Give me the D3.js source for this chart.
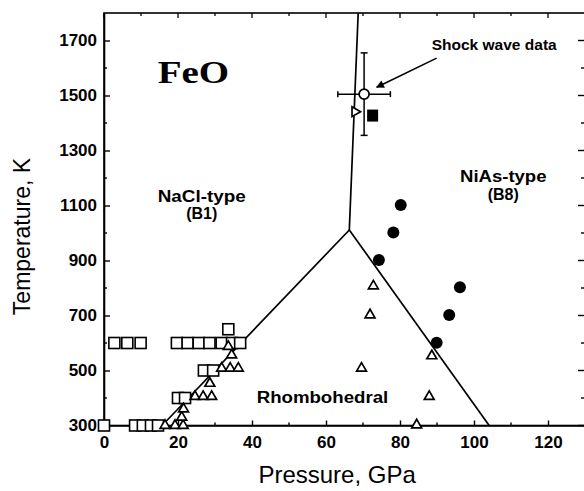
<!DOCTYPE html>
<html>
<head>
<meta charset="utf-8">
<script src="https://cdn.jsdelivr.net/npm/d3@7"></script>
<style>
  html, body { margin: 0; padding: 0; background: #fff; }
  svg { display: block; }
  .tick text { font-family: "Liberation Sans", Arial, sans-serif; font-weight: bold; font-size: 17px; fill: #000; }
</style>
</head>
<body>
<svg id="chart" width="584" height="491"></svg>
<script>
// ---------- data ----------
const xTicks = [0, 20, 40, 60, 80, 100, 120];
const yTicks = [300, 500, 700, 900, 1100, 1300, 1500, 1700];

// open squares (B1 observed)
const squareP = [0, 8.4, 10.5, 12.7, 14.6,
                 20, 21.9,
                 27, 29.5,
                 2.8, 6.3, 9.9, 19.7, 22.6, 25.6, 28.5, 31.8, 34.6, 36.8,
                 33.6];
const squareT = [300, 300, 300, 300, 300,
                 400, 400,
                 500, 500,
                 600, 600, 600, 600, 600, 600, 600, 600, 600, 600,
                 650];

// open triangles (rhombohedral observed)
const triP = [16.5, 19.2, 21.4, 21, 21.5,
              24.6, 26.8, 29.1, 28.6,
              31.8, 34.1, 36.3, 34.5, 33.6,
              72.8, 71.9, 69.6, 88.6, 87.9, 84.5];
const triT = [300, 300, 300, 330, 360,
              405, 405, 405, 453,
              508, 508, 508, 556, 587,
              807, 702, 508, 553, 405, 302];

// filled circles (B8 observed)
const circP = [74.3, 96.2, 93.3, 89.9, 80.2, 78.2];
const circT = [902, 803, 702, 601, 1102, 1002];

// shock wave datum
const shockP = 70.3, shockT = 1505, shockPErr = 7.1, shockTErr = 150;
// nearby symbols
const sideTriP = [67.8], sideTriT = [1441];
const fillSqP = [72.6], fillSqT = [1427];

// phase boundaries
const boundaryLeftP = [15.7, 66.3];
const boundaryLeftT = [300, 1011];
const boundaryRightP = [66.3, 104.1];
const boundaryRightT = [1011, 300];
const boundaryTopP = [66.3, 68.7];
const boundaryTopT = [1011, 1800];

// ---------- chart ----------
const svg = d3.select("#chart");
svg.append("rect").attr("width", 584).attr("height", 491).attr("fill", "#fff");

const x = d3.scaleLinear().domain([0, 130]).range([104, 585]);
const y = d3.scaleLinear().domain([300, 1800]).range([425.5, 13]);

const FONT = '"Liberation Sans", Arial, sans-serif';

// frame
svg.append("rect")
  .attr("x", x(0)).attr("y", y(1800))
  .attr("width", x(130) - x(0)).attr("height", y(300) - y(1800))
  .attr("fill", "none").attr("stroke", "#000").attr("stroke-width", 1.6);

// bottom axis
const xAxis = svg.append("g")
  .attr("transform", `translate(0,${y(300)})`)
  .call(d3.axisBottom(x).tickValues(xTicks).tickSizeInner(-5).tickSizeOuter(0)
        .tickPadding(10).tickFormat(d3.format("d")));
xAxis.select(".domain").attr("stroke-width", 1.6);
xAxis.selectAll(".tick line").attr("stroke-width", 1.4);
xAxis.selectAll(".tick text").style("font-size", "17px");

// bottom minor ticks
svg.append("g").selectAll("line")
  .data(d3.range(10, 130, 20)).join("line")
  .attr("x1", d => x(d)).attr("x2", d => x(d))
  .attr("y1", y(300)).attr("y2", y(300) - 3)
  .attr("stroke", "#000").attr("stroke-width", 1.4);

// left axis
const yAxis = svg.append("g")
  .attr("transform", `translate(${x(0)},0)`)
  .call(d3.axisLeft(y).tickValues(yTicks).tickSizeInner(-6).tickSizeOuter(0)
        .tickPadding(7).tickFormat(d3.format("d")));
yAxis.select(".domain").attr("stroke-width", 1.6);
yAxis.selectAll(".tick line").attr("stroke-width", 1.4);

// left minor ticks
svg.append("g").selectAll("line")
  .data(d3.range(400, 1800, 200)).join("line")
  .attr("x1", x(0)).attr("x2", x(0) + 3)
  .attr("y1", d => y(d)).attr("y2", d => y(d))
  .attr("stroke", "#000").attr("stroke-width", 1.4);

// top ticks
svg.append("g").selectAll("line")
  .data(d3.range(0, 130, 10)).join("line")
  .attr("x1", d => x(d)).attr("x2", d => x(d))
  .attr("y1", y(1800)).attr("y2", d => y(1800) + (d % 20 === 0 ? 5 : 3))
  .attr("stroke", "#000").attr("stroke-width", 1.3);

// right ticks
svg.append("g").selectAll("line")
  .data(d3.range(300, 1800, 100)).join("line")
  .attr("x1", x(130)).attr("x2", d => x(130) - (d % 200 === 100 ? 7 : 4))
  .attr("y1", d => y(d)).attr("y2", d => y(d))
  .attr("stroke", "#000").attr("stroke-width", 1.4);

// axis titles
svg.append("text")
  .attr("x", x(63)).attr("y", 483)
  .attr("text-anchor", "middle")
  .style("font-family", FONT).style("font-size", "24px")
  .text("Pressure, GPa");

svg.append("text")
  .attr("transform", `translate(30,${236.5}) rotate(-90)`)
  .attr("text-anchor", "middle")
  .style("font-family", FONT).style("font-size", "23px")
  .text("Temperature, K");

// phase boundaries
const line = d3.line().x(d => x(d[0])).y(d => y(d[1]));
[[boundaryLeftP, boundaryLeftT], [boundaryRightP, boundaryRightT], [boundaryTopP, boundaryTopT]]
  .forEach(([P, T]) => {
    svg.append("path")
      .attr("d", line(P.map((p, i) => [p, T[i]])))
      .attr("fill", "none").attr("stroke", "#000").attr("stroke-width", 1.7);
  });

// open squares
const sq = 11;
svg.append("g").selectAll("rect")
  .data(squareP.map((p, i) => [p, squareT[i]])).join("rect")
  .attr("x", d => x(d[0]) - sq / 2).attr("y", d => y(d[1]) - sq / 2)
  .attr("width", sq).attr("height", sq)
  .attr("fill", "#fff").attr("stroke", "#000").attr("stroke-width", 1.6);

// open triangles
const triSym = d3.symbol().type(d3.symbolTriangle).size(42);
svg.append("g").selectAll("path")
  .data(triP.map((p, i) => [p, triT[i]])).join("path")
  .attr("d", triSym)
  .attr("transform", d => `translate(${x(d[0])},${y(d[1])})`)
  .attr("fill", "#fff").attr("stroke", "#000").attr("stroke-width", 1.7);

// filled circles
svg.append("g").selectAll("circle")
  .data(circP.map((p, i) => [p, circT[i]])).join("circle")
  .attr("cx", d => x(d[0])).attr("cy", d => y(d[1])).attr("r", 6)
  .attr("fill", "#000");

// side-pointing open triangle and filled square near shock datum
svg.append("g").selectAll("path")
  .data(sideTriP.map((p, i) => [p, sideTriT[i]])).join("path")
  .attr("d", triSym)
  .attr("transform", d => `translate(${x(d[0])},${y(d[1])}) rotate(90)`)
  .attr("fill", "#fff").attr("stroke", "#000").attr("stroke-width", 1.7);

svg.append("g").selectAll("rect")
  .data(fillSqP.map((p, i) => [p, fillSqT[i]])).join("rect")
  .attr("x", d => x(d[0]) - 5.5).attr("y", d => y(d[1]) - 6)
  .attr("width", 11).attr("height", 12)
  .attr("fill", "#000");

// shock wave error bars
const eb = svg.append("g").attr("stroke", "#000").attr("stroke-width", 1.5);
eb.append("line")
  .attr("x1", x(shockP - shockPErr)).attr("x2", x(shockP + shockPErr))
  .attr("y1", y(shockT)).attr("y2", y(shockT));
eb.append("line")
  .attr("x1", x(shockP)).attr("x2", x(shockP))
  .attr("y1", y(shockT - shockTErr)).attr("y2", y(shockT + shockTErr));
[shockP - shockPErr, shockP + shockPErr].forEach(p => {
  eb.append("line").attr("x1", x(p)).attr("x2", x(p))
    .attr("y1", y(shockT) - 3).attr("y2", y(shockT) + 3);
});
[shockT - shockTErr, shockT + shockTErr].forEach(t => {
  eb.append("line").attr("x1", x(shockP) - 3.5).attr("x2", x(shockP) + 3.5)
    .attr("y1", y(t)).attr("y2", y(t));
});
svg.append("circle")
  .attr("cx", x(shockP)).attr("cy", y(shockT)).attr("r", 5)
  .attr("fill", "#fff").attr("stroke", "#000").attr("stroke-width", 1.7);

// arrow
svg.append("defs").append("marker")
  .attr("id", "ah").attr("viewBox", "0 0 10 10")
  .attr("refX", 9).attr("refY", 5)
  .attr("markerWidth", 10).attr("markerHeight", 8)
  .attr("markerUnits", "userSpaceOnUse")
  .attr("orient", "auto")
  .append("path").attr("d", "M0,0 L10,5 L0,10 Z").attr("fill", "#000");
svg.append("line")
  .attr("x1", x(89.9)).attr("y1", y(1636))
  .attr("x2", x(73.7)).attr("y2", y(1530))
  .attr("stroke", "#000").attr("stroke-width", 1.6)
  .attr("marker-end", "url(#ah)");

// annotations
function label(txt, xp, yp, opts = {}) {
  const t = svg.append("text")
    .attr("x", xp).attr("y", yp)
    .style("font-family", opts.family || FONT)
    .style("font-weight", "bold")
    .style("font-size", (opts.size || 15) + "px")
    .attr("text-anchor", opts.anchor || "start")
    .text(txt);
  if (opts.len) t.attr("textLength", opts.len).attr("lengthAdjust", "spacingAndGlyphs");
  return t;
}
label("FeO", 157.7, 83.3, { family: '"Liberation Serif", "Times New Roman", serif', size: 32, len: 71.5 });
label("NaCl-type", 157.7, 201.5, { size: 16, len: 88 });
label("(B1)", 201.7, 218.5, { size: 16, anchor: "middle" });
label("NiAs-type", 460, 181.5, { size: 16, len: 86.5 });
label("(B8)", 503.3, 199.5, { size: 16, anchor: "middle" });
label("Rhombohedral", 256.7, 403, { size: 16, len: 131.5 });
label("Shock wave data", 431.7, 50, { size: 15, len: 125 });
</script>
</body>
</html>
